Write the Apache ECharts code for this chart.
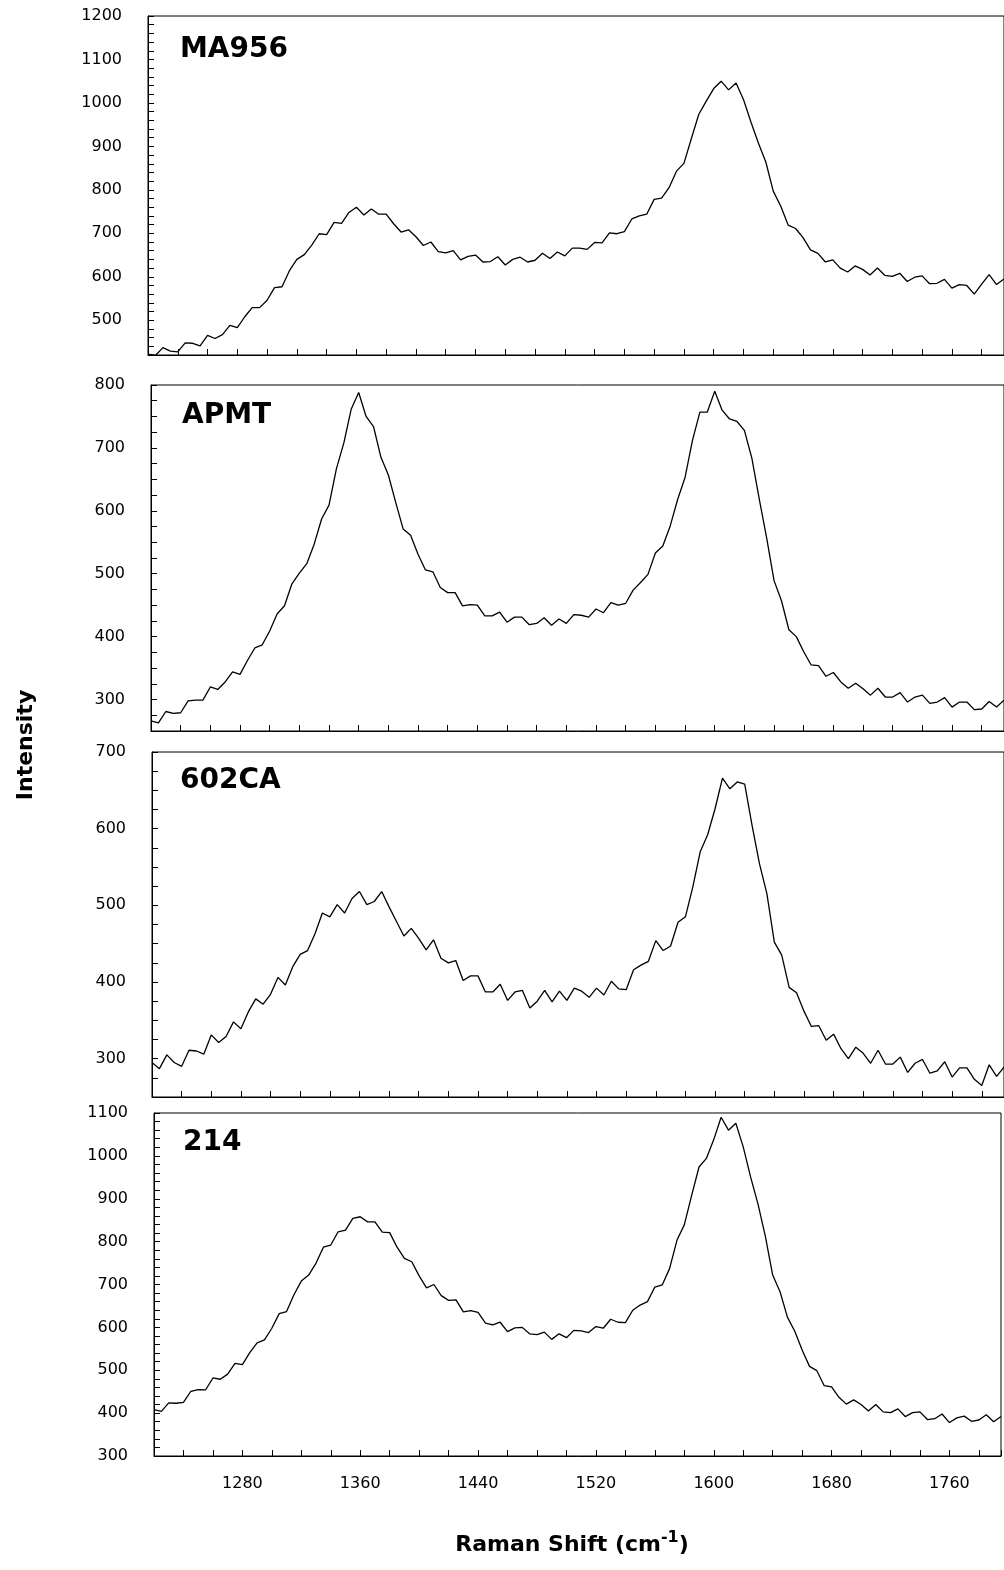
<!DOCTYPE html>
<html>
<head>
<meta charset="utf-8">
<script src="https://cdn.jsdelivr.net/npm/echarts@6/dist/echarts.min.js"></script>
<style>
html, body { margin: 0; padding: 0; background: #fff; }
#chart { width: 1004px; height: 1570px; }
</style>
</head>
<body>
<div id="chart"></div>
<script>
// Raman shift (cm-1), shared by all four spectra
var ramanShift = [
  1220, 1225, 1230, 1235, 1240, 1245, 1250, 1255, 1260, 1265,
  1270, 1275, 1280, 1285, 1290, 1295, 1300, 1305, 1310, 1315,
  1320, 1325, 1330, 1335, 1340, 1345, 1350, 1355, 1360, 1365,
  1370, 1375, 1380, 1385, 1390, 1395, 1400, 1405, 1410, 1415,
  1420, 1425, 1430, 1435, 1440, 1445, 1450, 1455, 1460, 1465,
  1470, 1475, 1480, 1485, 1490, 1495, 1500, 1505, 1510, 1515,
  1520, 1525, 1530, 1535, 1540, 1545, 1550, 1555, 1560, 1565,
  1570, 1575, 1580, 1585, 1590, 1595, 1600, 1605, 1610, 1615,
  1620, 1625, 1630, 1635, 1640, 1645, 1650, 1655, 1660, 1665,
  1670, 1675, 1680, 1685, 1690, 1695, 1700, 1705, 1710, 1715,
  1720, 1725, 1730, 1735, 1740, 1745, 1750, 1755, 1760, 1765,
  1770, 1775, 1780, 1785, 1790, 1795
];

var ma956 = [
  422, 419, 437, 429, 427, 448, 447, 441, 465, 458,
  467, 488, 483, 508, 529, 529, 546, 575, 577, 614,
  640, 651, 673, 699, 697, 725, 723, 748, 760, 742,
  756, 744, 744, 722, 703, 708, 692, 672, 680, 658,
  655, 660, 639, 647, 650, 634, 635, 646, 627, 640,
  645, 634, 638, 654, 642, 657, 648, 666, 666, 663,
  679, 678, 701, 699, 704, 733, 740, 744, 778, 781,
  805, 843, 861, 918, 974, 1004, 1033, 1050, 1030, 1046,
  1008, 956, 908, 864, 797, 763, 719, 711, 690, 662,
  654, 634, 639, 620, 611, 625, 617, 604, 620, 603,
  601, 608, 589, 599, 602, 584, 585, 594, 574, 582,
  580, 560, 583, 605, 582, 595
];

var apmt = [
  266, 263, 281, 278, 279, 298, 299, 299, 320, 316,
  328, 344, 340, 362, 382, 387, 409, 436, 449, 484,
  501, 516, 547, 587, 609, 667, 708, 762, 788, 750,
  734, 685, 657, 613, 571, 561, 531, 506, 503, 478,
  470, 470, 449, 451, 450, 433, 433, 439, 423, 431,
  431, 419, 421, 430, 418, 428, 421, 435, 434, 431,
  444, 438, 454, 450, 453, 474, 486, 499, 533, 544,
  576, 618, 653, 712, 757, 757, 790, 760, 746, 742,
  728, 684, 619, 557, 489, 457, 411, 400, 376, 355,
  354, 337, 343, 328, 318, 326, 317, 307, 318, 304,
  304, 311, 296, 304, 307, 294, 296, 303, 288, 296,
  296, 284, 285, 297, 288, 299
];

var ca602 = [
  295, 287, 305, 295, 290, 311, 310, 306, 331, 321,
  329, 348, 339, 361, 378, 371, 384, 406, 396, 420,
  436, 441, 463, 490, 485, 501, 490, 509, 518, 501,
  505, 518, 498, 479, 460, 470, 457, 442, 455, 431,
  425, 428, 402, 408, 408, 387, 387, 397, 376, 387,
  389, 366, 375, 389, 374, 388, 376, 392, 388, 380,
  392, 383, 401, 391, 390, 416, 422, 427, 454, 441,
  447, 478, 485, 524, 570, 592, 626, 666, 652, 661,
  658, 604, 554, 515, 452, 435, 393, 386, 362, 342,
  343, 324, 332, 313, 300, 315, 307, 294, 311, 293,
  293, 302, 282, 294, 299, 281, 284, 296, 276, 288,
  288, 273, 265, 292, 277, 289
];

var alloy214 = [
  408, 404, 424, 423, 425, 451, 455, 454, 482, 479,
  491, 516, 513, 541, 564, 571, 598, 632, 637, 676,
  708, 722, 750, 787, 792, 823, 827, 854, 858, 846,
  846, 822, 821, 787, 761, 753, 720, 692, 700, 674,
  663, 664, 636, 639, 635, 610, 606, 612, 590, 599,
  600, 585, 583, 589, 572, 585, 576, 593, 592, 588,
  602, 598, 619, 612, 611, 640, 652, 660, 694, 699,
  737, 803, 839, 908, 974, 994, 1038, 1090, 1060, 1076,
  1021, 951, 888, 813, 722, 683, 624, 591, 547, 509,
  499, 464, 461, 437, 421, 431, 420, 405, 420, 403,
  401, 410, 392, 401, 403, 385, 387, 398, 378, 389,
  393, 381, 384, 396, 380, 392
];

var panelNames = ["MA956", "APMT", "602CA", "214"];
var spectra = [ma956, apmt, ca602, alloy214];
var yMin = [420, 250, 250, 300];
var yMax = [1200, 800, 700, 1100];
var yStep = [20, 25, 25, 20];
var xTickLabels = [1280, 1360, 1440, 1520, 1600, 1680, 1760];

var chart = echarts.init(document.getElementById("chart"));
var font = "DejaVu Sans";

// panel boxes (px)
var boxes = [
  { left: 148, top: 16, height: 339 },
  { left: 151, top: 385, height: 346 },
  { left: 152, top: 752, height: 345 },
  { left: 154, top: 1113, height: 343 }
];
var labelPos = [[180, 53], [182, 419], [180, 784], [183, 1146]];

var grids = [], xAxes = [], yAxes = [], series = [], graphics = [];

boxes.forEach(function (b, i) {
  grids.push({
    left: b.left,
    right: 0,
    top: b.top,
    height: b.height,
    show: true,
    borderColor: "#000",
    borderWidth: 1
  });
  xAxes.push({
    gridIndex: i,
    type: "value",
    min: 1220,
    max: 1795,
    interval: 20,
    splitLine: { show: false },
    axisLine: { show: true, onZero: false, lineStyle: { color: "#000", width: 1 } },
    axisTick: { show: true, inside: true, length: 6, lineStyle: { color: "#000" } },
    axisLabel: {
      show: i === 3,
      margin: 20,
      color: "#000",
      fontFamily: font,
      fontSize: 16,
      formatter: function (v) {
        return xTickLabels.indexOf(v) >= 0 ? String(v) : "";
      }
    }
  });
  yAxes.push({
    gridIndex: i,
    type: "value",
    min: yMin[i],
    max: yMax[i],
    interval: yStep[i],
    splitLine: { show: false },
    axisLine: { show: true, onZero: false, lineStyle: { color: "#000", width: 1 } },
    axisTick: { show: true, inside: true, length: 6, lineStyle: { color: "#000" } },
    axisLabel: {
      margin: 26,
      color: "#000",
      fontFamily: font,
      fontSize: 16,
      formatter: function (v) {
        return v % 100 === 0 ? String(v) : "";
      }
    }
  });
  series.push({
    name: panelNames[i],
    type: "line",
    xAxisIndex: i,
    yAxisIndex: i,
    showSymbol: false,
    symbol: "none",
    clip: true,
    lineStyle: { color: "#000", width: 1.3 },
    data: ramanShift.map(function (x, k) {
      return [x, spectra[i][k]];
    })
  });
  graphics.push({
    type: "text",
    left: labelPos[i][0],
    top: labelPos[i][1] - 17,
    style: {
      text: panelNames[i],
      fontFamily: font,
      fontWeight: "bold",
      fontSize: 28,
      fill: "#000"
    }
  });
});

// axis titles
graphics.push({
  type: "text",
  x: 26,
  y: 745,
  rotation: Math.PI / 2,
  style: {
    text: "Intensity",
    fontFamily: font,
    fontWeight: "bold",
    fontSize: 22,
    fill: "#000",
    align: "center",
    verticalAlign: "middle"
  }
});
graphics.push({
  type: "text",
  x: 572,
  y: 1545,
  style: {
    text: "{a|Raman Shift (cm}{s|-1}{a|)}",
    align: "center",
    verticalAlign: "middle",
    rich: {
      a: { fontFamily: font, fontWeight: "bold", fontSize: 22, fill: "#000", color: "#000" },
      s: {
        fontFamily: font, fontWeight: "bold", fontSize: 16, color: "#000",
        verticalAlign: "top", padding: [0, 0, 14, 0]
      }
    }
  }
});

var option = {
  animation: false,
  backgroundColor: "#fff",
  grid: grids,
  xAxis: xAxes,
  yAxis: yAxes,
  series: series,
  graphic: graphics
};
chart.setOption(option);
</script>
</body>
</html>
